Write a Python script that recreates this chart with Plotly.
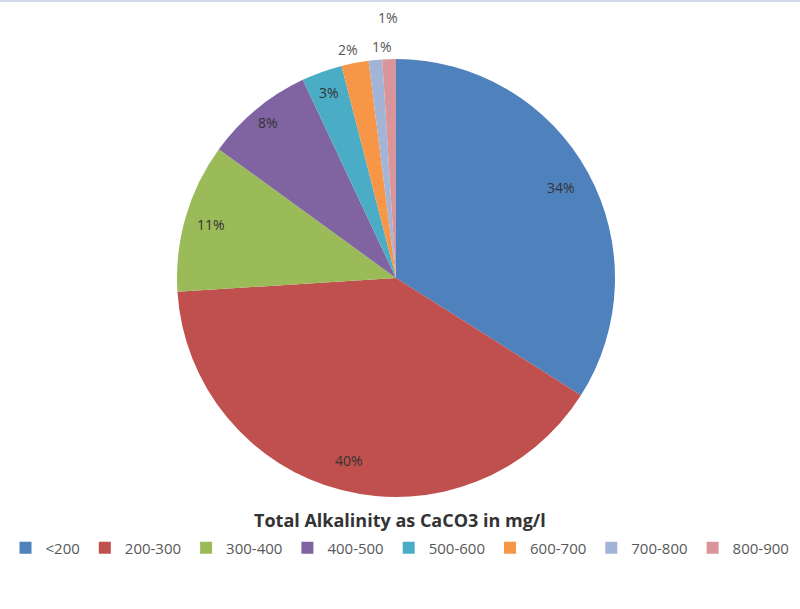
import math
import plotly.graph_objects as go

# Share of samples by total alkalinity range (as CaCO3, mg/l)
categories = ["<200", "200-300", "300-400", "400-500", "500-600", "600-700", "700-800", "800-900"]
shares = [34, 40, 11, 8, 3, 2, 1, 1]
colors = ["#4F81BD", "#C0504D", "#9BBB59", "#8064A2", "#4BACC6", "#F79646", "#A3B4D6", "#D9959A"]

# radial placement of each percentage label, as a fraction of the pie radius,
# plus a small sideways nudge (px) for the crowded small slices
label_radius = [0.86, 0.86, 0.88, 0.92, 0.9, 1.06, 1.06, 1.19]
label_nudge = [0, 0, 0, 0, 0, -5, 8, 0]
label_colors = ["#333333"] * 5 + ["#555555"] * 3

W, H = 800, 609
cx, cy, r = 396, 278, 219
FONT = "Open Sans"

fig = go.Figure(go.Pie(
    labels=categories,
    values=shares,
    sort=False,
    direction="clockwise",
    rotation=0,
    marker=dict(colors=colors, line=dict(width=0)),
    textinfo="none",
    hoverinfo="label+percent",
    domain=dict(x=[(cx - r) / W, (cx + r) / W],
                y=[(H - cy - r) / H, (H - cy + r) / H]),
))

# percentage labels placed along each slice's middle angle (clockwise from 12 o'clock)
total = sum(shares)
annotations = []
cum = 0
for val, rf, dx, col in zip(shares, label_radius, label_nudge, label_colors):
    mid = (cum + val / 2) / total * 2 * math.pi
    cum += val
    px = cx + rf * r * math.sin(mid) + dx
    py = cy - rf * r * math.cos(mid)
    annotations.append(dict(
        text=f"{val}%", x=px / W, y=1 - py / H, xref="paper", yref="paper",
        xanchor="center", yanchor="middle", showarrow=False,
        font=dict(family=FONT, size=14, color=col),
    ))

annotations.append(dict(
    text="<b>Total Alkalinity as CaCO3 in mg/l</b>",
    x=0.5, xref="paper", xanchor="center",
    y=1 - 520 / H, yref="paper", yanchor="middle",
    showarrow=False,
    font=dict(family=FONT, size=18, color="#333333"),
))

fig.update_layout(
    width=W, height=H,
    margin=dict(l=0, r=0, t=0, b=0),
    paper_bgcolor="white",
    showlegend=True,
    legend=dict(
        orientation="h",
        x=0.5, xanchor="center",
        y=1 - 548 / H, yanchor="middle",
        font=dict(family=FONT, size=15, color="#595959"),
        itemwidth=30,
        traceorder="normal",
    ),
    annotations=annotations,
    shapes=[dict(type="rect", xref="paper", yref="paper",
                 x0=0, x1=1, y0=1 - 2 / H, y1=1,
                 fillcolor="#d3d9ea", line=dict(width=0))],
)

fig.write_html("out.html")
